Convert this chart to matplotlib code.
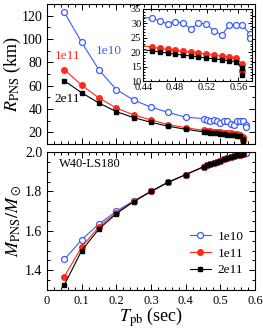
import numpy as np
import matplotlib
matplotlib.use("Agg")
import matplotlib.pyplot as plt
from matplotlib.ticker import MultipleLocator, FormatStrFormatter

plt.rcParams["font.family"] = ["Liberation Serif", "DejaVu Serif"]
plt.rcParams["mathtext.fontset"] = "stix"

# early times (shared by all models)
t_early = [0.05, 0.10, 0.15, 0.20, 0.25, 0.30, 0.35, 0.40]

# 1e10
t_1e10_late = [0.4514, 0.4611, 0.4708, 0.4804, 0.4901, 0.4998, 0.5094, 0.5192,
               0.5293, 0.5390, 0.5486, 0.5570, 0.5643, 0.5745, 0.5745]
r_1e10_early = [122.8, 97.2, 73.4, 56.7, 47.6, 41.6, 37.0, 32.9]
r_1e10_late = [31.8, 30.8, 29.9, 30.6, 30.1, 28.1, 30.0, 29.9,
               27.4, 26.0, 29.4, 29.4, 29.6, 26.4, 24.8]
m_1e10_early = [1.455, 1.555, 1.635, 1.700, 1.752, 1.800, 1.847, 1.885]
m_1e10_late = [1.925, 1.932, 1.938, 1.944, 1.950, 1.956, 1.962, 1.968,
               1.973, 1.978, 1.983, 1.987, 1.991, 1.996, 1.996]

# 1e11 and 2e11
t_rot_late = [0.4514, 0.4611, 0.4708, 0.4804, 0.4901, 0.4998, 0.5094, 0.5192,
              0.5293, 0.5390, 0.5486, 0.5570, 0.5643, 0.5646]
r_1e11_early = [73.7, 60.4, 49.4, 40.9, 34.9, 30.6, 26.6, 24.0]
r_1e11_late = [21.7, 21.3, 21.0, 20.6, 20.3, 20.0, 19.7, 19.4,
               19.0, 18.6, 18.3, 18.0, 16.0, 13.5]
m_1e11_early = [1.368, 1.518, 1.622, 1.692, 1.750, 1.800, 1.847, 1.885]
r_2e11_early = [64.2, 53.9, 45.1, 37.7, 32.6, 28.6, 25.2, 22.6]
r_2e11_late = [20.4, 20.1, 19.7, 19.3, 19.0, 18.7, 18.4, 18.0,
               17.7, 17.4, 17.0, 16.7, 14.5, 12.0]
m_2e11_early = [1.326, 1.500, 1.610, 1.687, 1.748, 1.800, 1.847, 1.885]
m_rot_late = [1.925, 1.932, 1.938, 1.944, 1.950, 1.956, 1.962, 1.968,
              1.973, 1.978, 1.983, 1.987, 1.991, 1.991]

labels = ["1e10", "1e11", "2e11"]
blue = "#3a5cff"
red = "#ff2a1a"

t1 = t_early + t_1e10_late
t2 = t_early + t_rot_late
series = [
    (t1, r_1e10_early + r_1e10_late, m_1e10_early + m_1e10_late,
     dict(color=blue, marker="o", mfc="white", mec=blue, ms=4.3, mew=0.9)),
    (t2, r_1e11_early + r_1e11_late, m_1e11_early + m_rot_late,
     dict(color=red, marker="o", mfc=red, mec=red, ms=4.0)),
    (t2, r_2e11_early + r_2e11_late, m_2e11_early + m_rot_late,
     dict(color="black", marker="s", mfc="black", mec="black", ms=3.0)),
]

fig = plt.figure(figsize=(2.63, 3.32), dpi=100)
ax1 = fig.add_axes([0.1787, 0.5663, 0.791, 0.4217])
ax2 = fig.add_axes([0.1787, 0.1265, 0.791, 0.4157])
axin = fig.add_axes([0.545, 0.756, 0.4144, 0.2169])


def style(ax, size):
    ax.tick_params(which="both", direction="in", top=True, right=True,
                   labelsize=size, width=0.7)
    ax.tick_params(which="major", length=4)
    ax.tick_params(which="minor", length=2)
    for s in ax.spines.values():
        s.set_linewidth(0.8)


for t, r, m, kw in series:
    ax1.plot(t, r, lw=0.8, **kw)
    ax2.plot(t, m, lw=0.8, **kw)
    axin.plot(t, r, lw=0.8, **kw)

for ax in (ax1, ax2):
    ax.set_xlim(0, 0.6)
    ax.xaxis.set_major_locator(MultipleLocator(0.1))
    ax.xaxis.set_minor_locator(MultipleLocator(0.02))
    style(ax, 10)

ax1.set_ylim(10, 130)
ax1.yaxis.set_major_locator(MultipleLocator(20))
ax1.yaxis.set_minor_locator(MultipleLocator(10))
ax1.tick_params(labelbottom=False)
ax1.set_ylabel(r"$R_{\rm PNS}$ (km)", fontsize=13)
ax1.yaxis.set_label_coords(-0.115, 0.5)
ax1.text(0.058, 85, "1e11", color=red, fontsize=9.5, ha="center", va="center")
ax1.text(0.178, 90, "1e10", color=blue, fontsize=9.5, ha="center", va="center")
ax1.text(0.058, 48.7, "2e11", color="black", fontsize=9.5, ha="center", va="center")

ax2.set_ylim(1.3, 2.0)
ax2.yaxis.set_major_locator(MultipleLocator(0.2))
ax2.yaxis.set_minor_locator(MultipleLocator(0.05))
ax2.yaxis.set_major_formatter(FormatStrFormatter("%.1f"))
ax2.set_xticks([0, 0.1, 0.2, 0.3, 0.4, 0.5, 0.6])
ax2.set_xticklabels(["0", "0.1", "0.2", "0.3", "0.4", "0.5", "0.6"], fontsize=9)
ax2.set_xlabel(r"$T_{\rm pb}$ (sec)", fontsize=13)
ax2.xaxis.set_label_coords(0.5, -0.115)
ax2.set_ylabel(r"$M_{\rm PNS}/M_\odot$", fontsize=13)
ax2.yaxis.set_label_coords(-0.115, 0.5)
ax2.text(0.06, 0.915, "W40-LS180", transform=ax2.transAxes, fontsize=9,
         ha="left", va="center")
ax2.legend(labels, loc="lower right", bbox_to_anchor=(0.97, 0.06),
           frameon=False, fontsize=9.5, handlelength=1.6, handletextpad=0.5,
           labelspacing=0.35, borderaxespad=0)

axin.set_xlim(0.44, 0.5776)
axin.set_ylim(10, 35)
axin.xaxis.set_major_locator(MultipleLocator(0.04))
axin.xaxis.set_minor_locator(MultipleLocator(0.01))
axin.yaxis.set_major_locator(MultipleLocator(5))
axin.yaxis.set_minor_locator(MultipleLocator(1))
axin.xaxis.set_major_formatter(FormatStrFormatter("%.2f"))
style(axin, 7.5)
axin.tick_params(which="major", length=3, pad=1.5)
axin.tick_params(which="minor", length=1.5)

fig.savefig("out.png", dpi=100)
